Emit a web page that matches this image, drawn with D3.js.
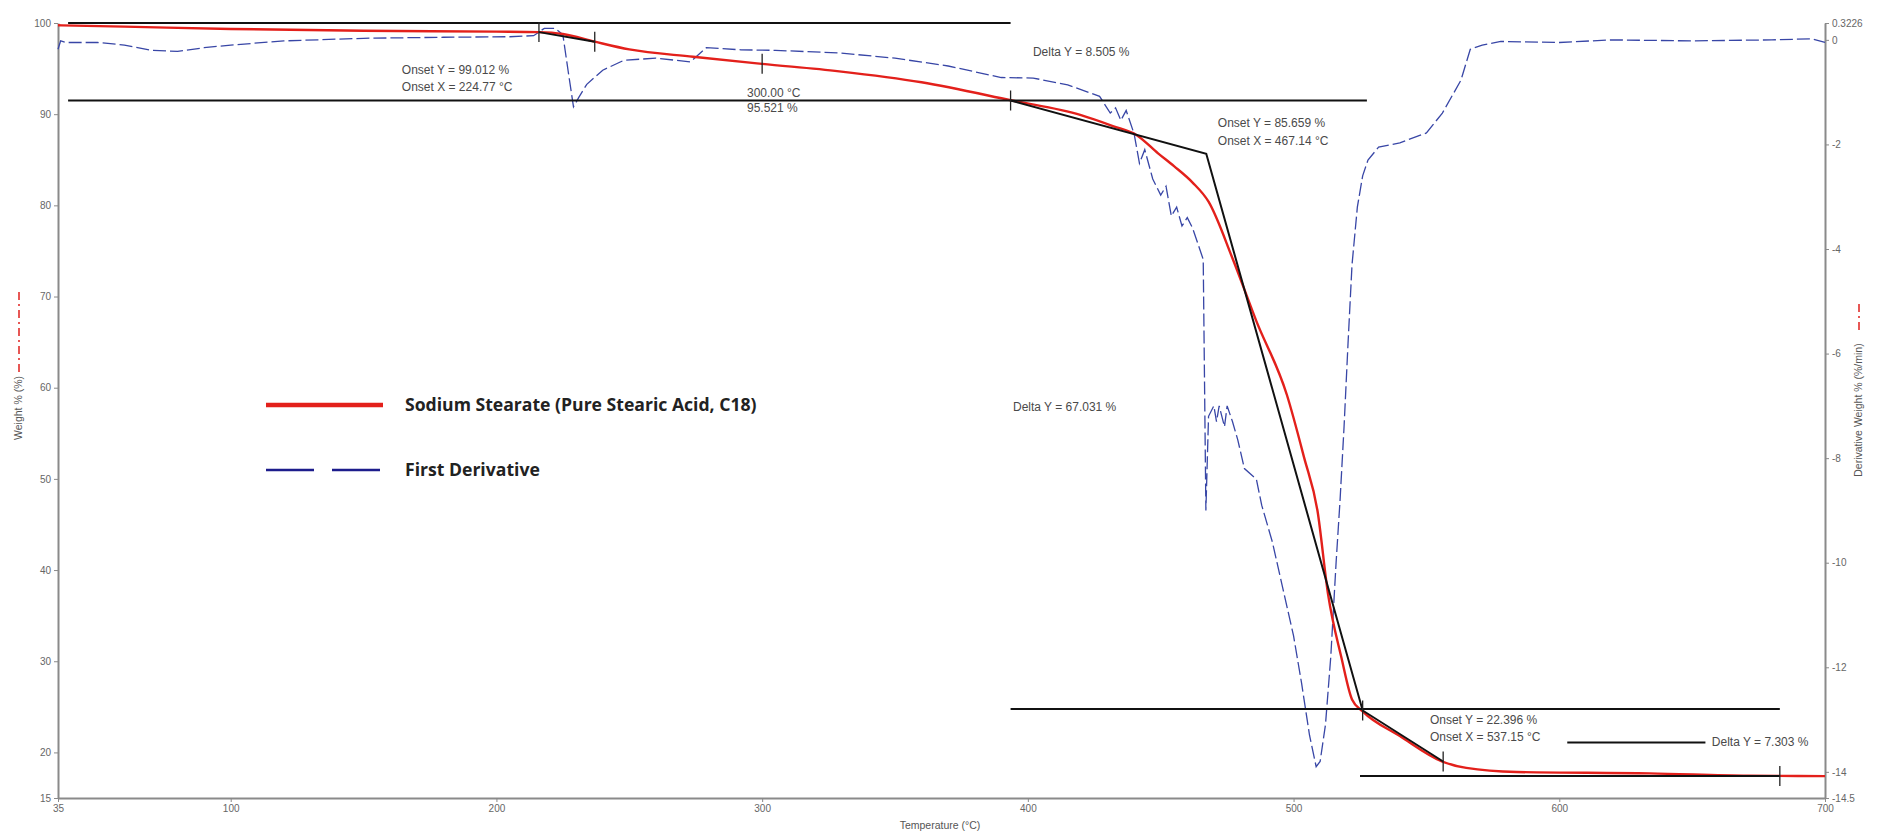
<!DOCTYPE html>
<html lang="en">
<head>
<meta charset="utf-8">
<title>TGA - Sodium Stearate</title>
<script src="https://d3js.org/d3.v7.min.js"></script>
<style>
  body { margin: 0; background: #fff; }
  text { font-family: "Liberation Sans", Arial, sans-serif; }
</style>
</head>
<body>
<div id="chart"></div>
<script>
// weight loss curve: temperature (C) and weight (%)
var weightTemp = [35, 60, 100, 150, 200, 216, 225, 237, 250, 274, 300, 329, 360, 394, 420, 432, 441, 449, 455, 462, 468, 477, 486, 497.5, 504, 509, 513, 518, 522, 526, 540, 556, 565, 584, 634, 671, 700];
var weightPct  = [99.75, 99.6, 99.35, 99.15, 99.05, 99.0, 98.8, 97.95, 97.1, 96.3, 95.52, 94.7, 93.5, 91.5, 89.9, 88.7, 87.7, 85.7, 84.3, 82.5, 80.4, 74.2, 67.3, 59.2, 52.3, 46.5, 37.3, 30.4, 25.8, 24.5, 21.8, 19.0, 18.3, 17.85, 17.7, 17.45, 17.4];

// first derivative: temperature (C) and %/min
var derivTemp = [35, 36, 38, 50, 60, 70, 80, 90, 100, 120, 150, 180, 205, 214, 218, 222, 225, 227, 229, 231, 234, 240, 248, 260, 273, 279, 292, 305, 329, 350, 370, 390, 402, 415, 427, 431, 433, 435, 437, 440, 442, 444, 447, 450, 452, 454, 456, 458, 460, 462, 464, 466, 467, 468, 470, 471, 472, 474, 475, 477, 479, 481.5, 486, 488, 492, 496, 500, 503, 506, 508.5, 510, 512, 514, 516, 517.5, 519, 520.5, 522, 524, 526, 528, 532, 540, 550, 556, 563, 566.5, 571, 578, 600, 620, 650, 680, 695, 700];
var derivVal  = [-0.18, -0.02, -0.05, -0.05, -0.1, -0.2, -0.22, -0.15, -0.1, -0.02, 0.03, 0.05, 0.06, 0.08, 0.22, 0.22, 0.1, -0.6, -1.28, -1.1, -0.85, -0.58, -0.39, -0.35, -0.42, -0.15, -0.19, -0.2, -0.25, -0.35, -0.5, -0.72, -0.73, -0.86, -1.08, -1.4, -1.3, -1.54, -1.35, -1.8, -2.36, -2.1, -2.66, -2.97, -2.8, -3.37, -3.2, -3.56, -3.4, -3.6, -3.9, -4.2, -9.0, -7.2, -7.0, -7.3, -7.0, -7.4, -7.0, -7.3, -7.65, -8.2, -8.4, -8.9, -9.6, -10.5, -11.4, -12.3, -13.3, -13.9, -13.8, -13.1, -11.8, -10.0, -8.8, -7.4, -5.8, -4.3, -3.2, -2.6, -2.3, -2.05, -1.97, -1.78, -1.4, -0.77, -0.18, -0.1, -0.03, -0.05, 0, -0.02, 0, 0.02, -0.05];

// tick values
var xTicks = [35, 100, 200, 300, 400, 500, 600, 700];
var leftTicks = [100, 90, 80, 70, 60, 50, 40, 30, 20, 15];
var rightTicks = [0.3226, 0, -2, -4, -6, -8, -10, -12, -14, -14.5];

// analysis lines drawn by the instrument software (temperature, weight)
var baseLines = [
  [[38.8, 100], [393.5, 100]],
  [[38.8, 91.495], [527.6, 91.495]],
  [[393.5, 24.76], [683, 24.76]],
  [[525, 17.41], [683, 17.41]],
  [[603, 21.1], [655, 21.1]]
];
var tangentA = [[216, 99.0], [237, 97.95]];
var tangentB = [[393.5, 91.5], [467.14, 85.66], [526, 24.6], [556.3, 19.0]];
var markTemp = [216, 237, 300, 393.5, 526, 556.3, 683];
var markPct  = [99.0, 97.95, 95.52, 91.5, 24.6, 19.0, 17.41];

// annotation labels (temperature, weight, text)
var labelTemp = [164.4, 164.4, 294.3, 294.3, 401.9, 471.5, 471.5, 394.4, 551.3, 551.3, 657.4];
var labelPct  = [94.85, 92.98, 92.32, 90.68, 96.82, 89.03, 87.06, 57.9, 23.56, 21.69, 21.14];
var labelText = ["Onset Y = 99.012 %", "Onset X = 224.77 \u00B0C", "300.00 \u00B0C", "95.521 %",
  "Delta Y = 8.505 %", "Onset Y = 85.659 %", "Onset X = 467.14 \u00B0C", "Delta Y = 67.031 %",
  "Onset Y = 22.396 %", "Onset X = 537.15 \u00B0C", "Delta Y = 7.303 %"];

var width = 1877, height = 836;

var svg = d3.select("#chart")
  .append("svg")
    .attr("width", width)
    .attr("height", height);

var x = d3.scaleLinear().domain([35, 700]).range([58, 1825]);
var y = d3.scaleLinear().domain([15, 100]).range([798, 23]);
var y2 = d3.scaleLinear().domain([-14.5, 0.3226]).range([798, 23]);

// axes
function styleAxis(g) {
  g.select(".domain").attr("stroke", "#8a8a8a").attr("stroke-width", 2);
  g.selectAll(".tick line").attr("stroke", "#8a8a8a");
  g.selectAll(".tick text").attr("fill", "#666").style("font-size", "10px")
    .style("font-family", "'Liberation Sans', Arial, sans-serif");
}

svg.append("g")
  .attr("transform", "translate(0,798)")
  .call(d3.axisBottom(x).tickValues(xTicks).tickFormat(d3.format("d")).tickSize(4).tickSizeOuter(0))
  .call(styleAxis);

svg.append("g")
  .attr("transform", "translate(58,0)")
  .call(d3.axisLeft(y).tickValues(leftTicks).tickFormat(d3.format("d")).tickSize(4).tickSizeOuter(0))
  .call(styleAxis);

svg.append("g")
  .attr("transform", "translate(1825,0)")
  .call(d3.axisRight(y2).tickValues(rightTicks).tickFormat(function(d) { return String(d); }).tickSize(4).tickSizeOuter(0))
  .call(styleAxis);

// axis titles
svg.append("text")
  .attr("x", 940).attr("y", 829)
  .attr("text-anchor", "middle")
  .style("font-size", "10.5px").attr("fill", "#555")
  .text("Temperature (\u00B0C)");

svg.append("text")
  .attr("transform", "translate(22,408) rotate(-90)")
  .attr("text-anchor", "middle")
  .style("font-size", "10.5px").attr("fill", "#555")
  .text("Weight % (%)");
svg.append("line")
  .attr("x1", 19).attr("x2", 19).attr("y1", 372).attr("y2", 290)
  .attr("stroke", "#e0201e").attr("stroke-width", 1.5).attr("stroke-dasharray", "8,4,2,4");

svg.append("text")
  .attr("transform", "translate(1862,410) rotate(-90)")
  .attr("text-anchor", "middle")
  .style("font-size", "10.5px").attr("fill", "#555")
  .text("Derivative Weight % (%/min)");
svg.append("line")
  .attr("x1", 1859).attr("x2", 1859).attr("y1", 330).attr("y2", 300)
  .attr("stroke", "#e0201e").attr("stroke-width", 1.5).attr("stroke-dasharray", "8,4,2,4");

// derivative curve (blue dashed)
var derivData = derivTemp.map(function(t, i) { return [t, derivVal[i]]; });
svg.append("path")
  .datum(derivData)
  .attr("d", d3.line()
    .x(function(d) { return x(d[0]); })
    .y(function(d) { return y2(d[1]); }))
  .attr("fill", "none")
  .attr("stroke", "#3846a6")
  .attr("stroke-width", 1.3)
  .attr("stroke-dasharray", "13,4");

// weight curve (red)
var weightData = weightTemp.map(function(t, i) { return [t, weightPct[i]]; });
svg.append("path")
  .datum(weightData)
  .attr("d", d3.line()
    .curve(d3.curveMonotoneX)
    .x(function(d) { return x(d[0]); })
    .y(function(d) { return y(d[1]); }))
  .attr("fill", "none")
  .attr("stroke", "#e3201b")
  .attr("stroke-width", 2.4);

// analysis lines
var lineGen = d3.line()
  .x(function(d) { return x(d[0]); })
  .y(function(d) { return y(d[1]); });

svg.selectAll(".base")
  .data(baseLines)
  .enter()
  .append("path")
    .attr("class", "base")
    .attr("d", lineGen)
    .attr("fill", "none")
    .attr("stroke", "#111")
    .attr("stroke-width", 2);

[tangentA, tangentB].forEach(function(t) {
  svg.append("path")
    .datum(t)
    .attr("d", lineGen)
    .attr("fill", "none")
    .attr("stroke", "#111")
    .attr("stroke-width", 2);
});

// small vertical markers
svg.selectAll(".mark")
  .data(markTemp)
  .enter()
  .append("line")
    .attr("class", "mark")
    .attr("x1", function(d) { return x(d); })
    .attr("x2", function(d) { return x(d); })
    .attr("y1", function(d, i) { return y(markPct[i]) - 10; })
    .attr("y2", function(d, i) { return y(markPct[i]) + 10; })
    .attr("stroke", "#222")
    .attr("stroke-width", 1.3);

// annotation labels
svg.selectAll(".lab")
  .data(labelText)
  .enter()
  .append("text")
    .attr("class", "lab")
    .attr("x", function(d, i) { return x(labelTemp[i]); })
    .attr("y", function(d, i) { return y(labelPct[i]); })
    .attr("dy", "0.35em")
    .style("font-size", "12px")
    .attr("fill", "#4a4a4a")
    .text(function(d) { return d; });

// legend
svg.append("line")
  .attr("x1", 266).attr("x2", 383).attr("y1", 405).attr("y2", 405)
  .attr("stroke", "#e3201b").attr("stroke-width", 4.5);
svg.append("text")
  .attr("x", 405).attr("y", 405).attr("dy", "0.35em")
  .style("font-family", "'Open Sans', sans-serif").style("font-weight", "bold").style("font-size", "17.6px")
  .attr("fill", "#222")
  .text("Sodium Stearate (Pure Stearic Acid, C18)");

svg.append("line")
  .attr("x1", 266).attr("x2", 383).attr("y1", 470).attr("y2", 470)
  .attr("stroke", "#1c1c8c").attr("stroke-width", 2.5).attr("stroke-dasharray", "48,18");
svg.append("text")
  .attr("x", 405).attr("y", 470).attr("dy", "0.35em")
  .style("font-family", "'Open Sans', sans-serif").style("font-weight", "bold").style("font-size", "17.6px")
  .attr("fill", "#222")
  .text("First Derivative");
</script>
</body>
</html>
